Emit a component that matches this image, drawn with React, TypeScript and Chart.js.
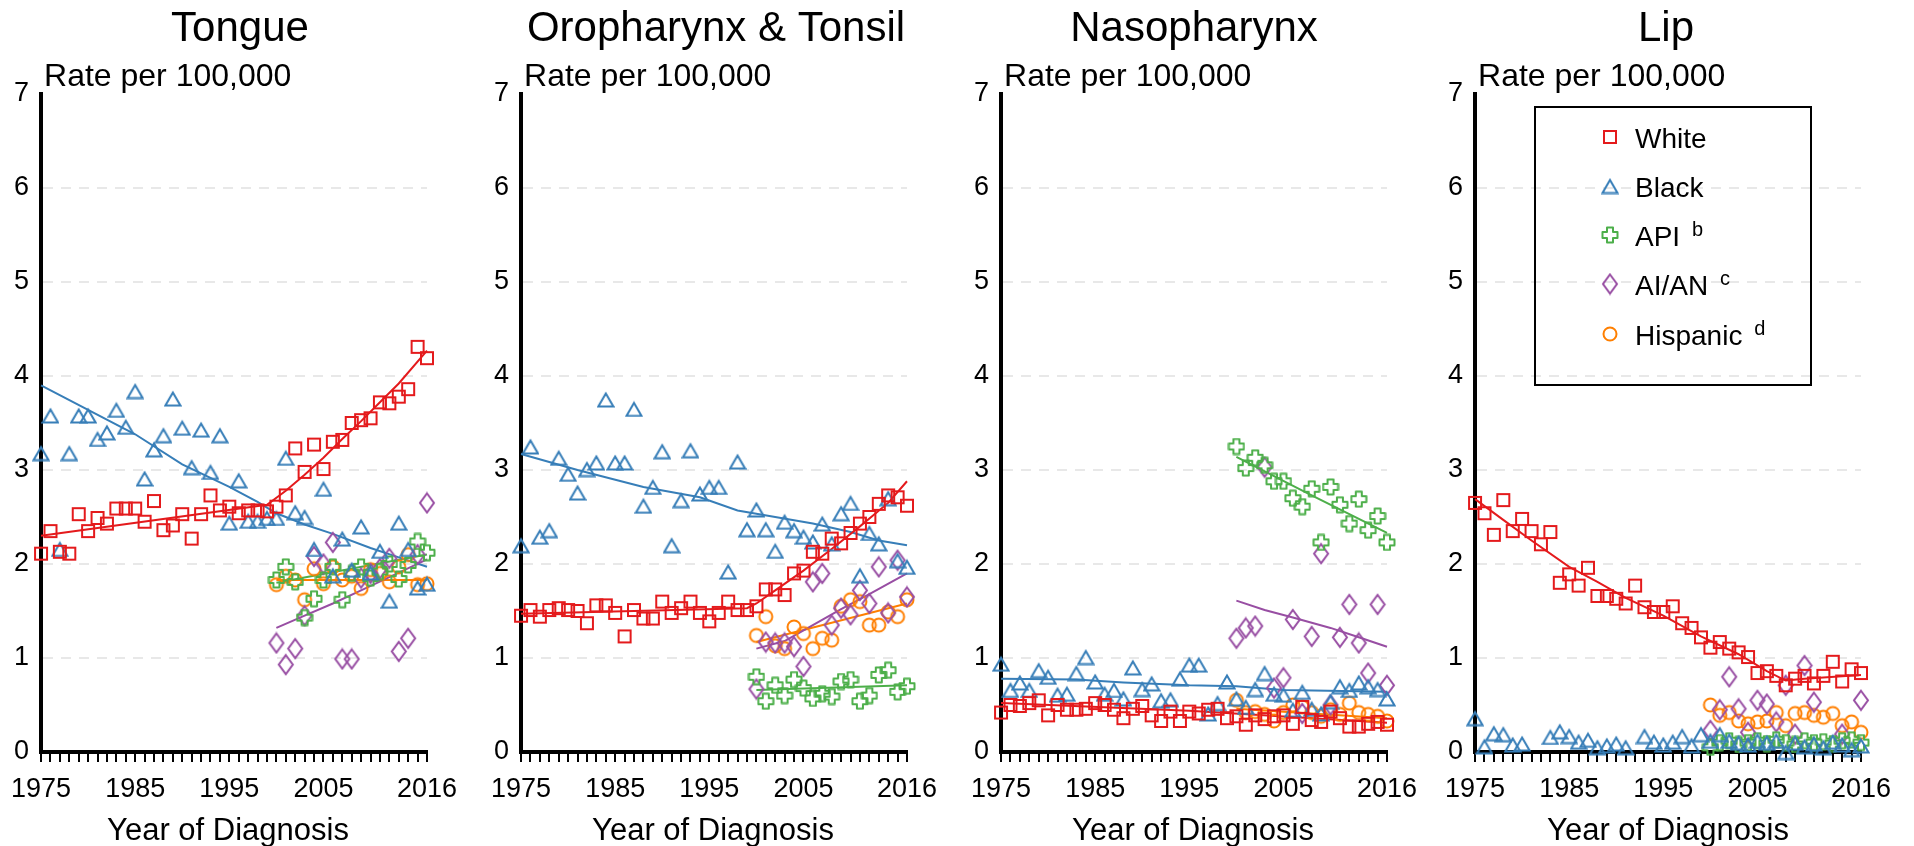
import React, { useEffect, useRef } from 'react';
import { Chart, registerables } from 'chart.js';

Chart.register(...registerables);

const FONT = '"Liberation Sans", Arial, Helvetica, sans-serif';

// ---------------- Data ----------------
const YEARS_ALL = [1975, 1976, 1977, 1978, 1979, 1980, 1981, 1982, 1983, 1984, 1985, 1986, 1987, 1988, 1989, 1990, 1991, 1992, 1993, 1994, 1995, 1996, 1997, 1998, 1999, 2000, 2001, 2002, 2003, 2004, 2005, 2006, 2007, 2008, 2009, 2010, 2011, 2012, 2013, 2014, 2015, 2016];
const YEARS_RECENT = [2000, 2001, 2002, 2003, 2004, 2005, 2006, 2007, 2008, 2009, 2010, 2011, 2012, 2013, 2014, 2015, 2016];
const X_TICK_LABELS = [1975, 1985, 1995, 2005, 2016];
const PANEL_TITLES = ['Tongue', 'Oropharynx & Tonsil', 'Nasopharynx', 'Lip'];
const Y_LABEL = 'Rate per 100,000';
const X_LABEL = 'Year of Diagnosis';
const LEGEND_LABELS = ['White', 'Black', 'API', 'AI/AN', 'Hispanic'];
const LEGEND_SUPS = ['', '', 'b', 'c', 'd'];

// Tongue
const TONGUE_WHITE = [2.11, 2.35, 2.13, 2.11, 2.53, 2.35, 2.49, 2.43, 2.59, 2.59, 2.59, 2.45, 2.67, 2.36, 2.41, 2.53, 2.27, 2.53, 2.73, 2.57, 2.61, 2.54, 2.57, 2.57, 2.56, 2.61, 2.73, 3.23, 2.98, 3.27, 3.01, 3.30, 3.32, 3.50, 3.53, 3.55, 3.72, 3.71, 3.78, 3.86, 4.31, 4.19];
const TONGUE_BLACK = [3.18, 3.58, 2.16, 3.18, 3.58, 3.58, 3.33, 3.40, 3.64, 3.46, 3.84, 2.91, 3.22, 3.37, 3.76, 3.45, 3.03, 3.43, 2.98, 3.37, 2.44, 2.89, 2.46, 2.46, 2.49, 2.49, 3.13, 2.55, 2.50, 2.16, 2.80, 1.88, 2.27, 1.94, 2.40, 1.91, 2.14, 1.61, 2.44, 2.16, 1.75, 1.79];
const TONGUE_API = [1.83, 1.97, 1.81, 1.43, 1.63, 1.83, 1.97, 1.62, 1.90, 1.97, 1.85, 1.92, 2.00, 1.84, 1.99, 2.24, 2.12];
const TONGUE_AIAN = [1.16, 0.93, 1.10, 1.45, 2.08, 2.00, 2.23, 0.99, 0.99, 1.85, 1.90, 1.95, 2.06, 1.07, 1.21, 2.10, 2.65];
const TONGUE_HISP = [1.78, 1.87, 1.83, 1.62, 1.95, 1.79, 1.97, 1.83, 1.87, 1.74, 1.94, 1.90, 1.81, 1.97, 2.10, 1.78, 1.79];
const TONGUE_WHITE_FIT_X = [1975, 1999, 2001, 2003, 2005, 2007, 2009, 2011, 2013, 2016];
const TONGUE_WHITE_FIT_Y = [2.30, 2.63, 2.78, 2.95, 3.13, 3.33, 3.52, 3.72, 3.92, 4.27];
const TONGUE_BLACK_FIT_X = [1975, 1980, 1985, 1990, 1995, 1998, 2000, 2003, 2006, 2010, 2013, 2016];
const TONGUE_BLACK_FIT_Y = [3.90, 3.64, 3.38, 3.06, 2.82, 2.66, 2.54, 2.42, 2.32, 2.17, 2.07, 1.97];
const TONGUE_API_FIT_X = [2000, 2016];
const TONGUE_API_FIT_Y = [1.80, 2.10];
const TONGUE_AIAN_FIT_X = [2000, 2003, 2006, 2009, 2012, 2016];
const TONGUE_AIAN_FIT_Y = [1.32, 1.45, 1.58, 1.72, 1.86, 2.05];
const TONGUE_HISP_FIT_X = [2000, 2016];
const TONGUE_HISP_FIT_Y = [1.83, 1.83];

// Oropharynx & Tonsil
const ORO_WHITE = [1.45, 1.51, 1.44, 1.51, 1.53, 1.51, 1.50, 1.37, 1.56, 1.56, 1.48, 1.23, 1.51, 1.42, 1.42, 1.60, 1.48, 1.53, 1.60, 1.48, 1.39, 1.48, 1.60, 1.51, 1.51, 1.55, 1.73, 1.73, 1.67, 1.90, 1.93, 2.13, 2.11, 2.27, 2.22, 2.33, 2.43, 2.50, 2.64, 2.73, 2.71, 2.62];
const ORO_BLACK = [2.20, 3.25, 2.29, 2.36, 3.13, 2.96, 2.76, 3.01, 3.08, 3.75, 3.08, 3.08, 3.65, 2.62, 2.82, 3.20, 2.20, 2.68, 3.21, 2.75, 2.82, 2.82, 1.92, 3.09, 2.37, 2.58, 2.37, 2.14, 2.45, 2.36, 2.29, 2.24, 2.43, 2.22, 2.54, 2.65, 1.88, 2.33, 2.22, 2.70, 2.04, 1.97];
const ORO_API = [0.80, 0.54, 0.71, 0.60, 0.77, 0.68, 0.57, 0.62, 0.59, 0.75, 0.77, 0.54, 0.60, 0.82, 0.87, 0.64, 0.70];
const ORO_AIAN = [0.67, 1.17, 1.16, 1.16, 1.12, 0.91, 1.81, 1.90, 1.35, 1.53, 1.46, 1.72, 1.58, 1.97, 1.48, 2.04, 1.65];
const ORO_HISP = [1.24, 1.44, 1.13, 1.10, 1.33, 1.26, 1.10, 1.21, 1.19, 1.55, 1.62, 1.60, 1.35, 1.35, 1.49, 1.44, 1.62];
const ORO_WHITE_FIT_X = [1975, 1999, 2000, 2002, 2005, 2008, 2011, 2014, 2016];
const ORO_WHITE_FIT_Y = [1.47, 1.53, 1.58, 1.72, 1.93, 2.16, 2.40, 2.65, 2.88];
const ORO_BLACK_FIT_X = [1975, 1981, 1988, 1994, 1998, 2002, 2006, 2010, 2013, 2016];
const ORO_BLACK_FIT_Y = [3.17, 3.00, 2.82, 2.71, 2.57, 2.50, 2.43, 2.34, 2.25, 2.20];
const ORO_API_FIT_X = [2000, 2016];
const ORO_API_FIT_Y = [0.66, 0.71];
const ORO_AIAN_FIT_X = [2000, 2003, 2006, 2009, 2012, 2016];
const ORO_AIAN_FIT_Y = [1.10, 1.18, 1.35, 1.52, 1.68, 1.90];
const ORO_HISP_FIT_X = [2000, 2016];
const ORO_HISP_FIT_Y = [1.17, 1.58];

// Nasopharynx
const NASO_WHITE = [0.42, 0.50, 0.49, 0.52, 0.55, 0.39, 0.50, 0.45, 0.45, 0.46, 0.52, 0.50, 0.45, 0.36, 0.46, 0.49, 0.39, 0.33, 0.43, 0.33, 0.43, 0.41, 0.45, 0.46, 0.36, 0.38, 0.29, 0.39, 0.35, 0.38, 0.39, 0.30, 0.48, 0.34, 0.32, 0.43, 0.36, 0.27, 0.27, 0.30, 0.32, 0.29];
const NASO_BLACK = [0.94, 0.66, 0.74, 0.66, 0.87, 0.80, 0.61, 0.62, 0.84, 1.01, 0.75, 0.62, 0.66, 0.57, 0.90, 0.67, 0.73, 0.55, 0.56, 0.78, 0.93, 0.93, 0.41, 0.52, 0.75, 0.57, 0.48, 0.67, 0.84, 0.62, 0.61, 0.45, 0.64, 0.46, 0.41, 0.54, 0.70, 0.66, 0.74, 0.70, 0.67, 0.57];
const NASO_API = [3.25, 3.02, 3.13, 3.05, 2.88, 2.88, 2.70, 2.61, 2.80, 2.23, 2.82, 2.63, 2.43, 2.69, 2.36, 2.51, 2.23];
const NASO_AIAN = [1.21, 1.32, 1.34, 3.03, 0.68, 0.79, 1.41, 0.41, 1.23, 2.11, 0.50, 1.22, 1.57, 1.16, 0.84, 1.57, 0.71];
const NASO_HISP = [0.55, 0.42, 0.43, 0.40, 0.33, 0.42, 0.50, 0.48, 0.42, 0.38, 0.45, 0.40, 0.52, 0.42, 0.40, 0.38, 0.33];
const NASO_WHITE_FIT_X = [1975, 1995, 2016];
const NASO_WHITE_FIT_Y = [0.52, 0.44, 0.31];
const NASO_BLACK_FIT_X = [1975, 1983, 1988, 1995, 2000, 2005, 2016];
const NASO_BLACK_FIT_Y = [0.78, 0.77, 0.74, 0.71, 0.70, 0.66, 0.64];
const NASO_API_FIT_X = [2000, 2008, 2016];
const NASO_API_FIT_Y = [3.14, 2.73, 2.33];
const NASO_AIAN_FIT_X = [2000, 2003, 2006, 2010, 2013, 2016];
const NASO_AIAN_FIT_Y = [1.61, 1.51, 1.43, 1.32, 1.22, 1.12];
const NASO_HISP_FIT_X = [2000, 2016];
const NASO_HISP_FIT_Y = [0.46, 0.36];

// Lip
const LIP_WHITE = [2.65, 2.54, 2.31, 2.68, 2.35, 2.48, 2.35, 2.21, 2.34, 1.80, 1.89, 1.77, 1.96, 1.66, 1.66, 1.63, 1.58, 1.77, 1.54, 1.49, 1.49, 1.55, 1.37, 1.32, 1.22, 1.11, 1.17, 1.10, 1.06, 1.01, 0.84, 0.86, 0.81, 0.71, 0.78, 0.81, 0.73, 0.81, 0.96, 0.75, 0.88, 0.84];
const LIP_BLACK = [0.36, 0.06, 0.20, 0.19, 0.08, 0.09, null, null, 0.16, 0.22, 0.17, 0.11, 0.13, 0.05, 0.07, 0.09, 0.05, null, 0.17, 0.11, 0.08, 0.11, 0.17, 0.07, 0.19, 0.12, 0.19, 0.12, 0.10, 0.08, 0.12, 0.10, 0.12, 0.00, 0.10, 0.06, 0.09, 0.05, 0.11, 0.08, 0.03, 0.07];
const LIP_API = [0.05, 0.10, 0.12, 0.08, 0.10, 0.12, 0.09, 0.13, 0.10, 0.08, 0.12, 0.10, 0.11, 0.09, 0.12, 0.13, 0.10];
const LIP_AIAN = [0.23, 0.45, 0.80, 0.46, 0.21, 0.55, 0.51, 0.32, 0.71, 0.19, 0.92, 0.53, null, null, 0.19, null, 0.55];
const LIP_HISP = [0.50, 0.39, 0.42, 0.33, 0.30, 0.32, 0.33, 0.42, 0.28, 0.41, 0.42, 0.39, 0.37, 0.41, 0.28, 0.32, 0.21];
const LIP_WHITE_FIT_X = [1975, 1978, 1981, 1985, 1988, 1991, 1995, 1999, 2003, 2006, 2008, 2010, 2016];
const LIP_WHITE_FIT_Y = [2.69, 2.47, 2.25, 1.97, 1.81, 1.64, 1.45, 1.23, 1.04, 0.86, 0.76, 0.78, 0.82];

// ---------------- Styles ----------------
const COLORS = ['#e41a1c', '#377eb8', '#4daf4a', '#984ea3', '#ff7f00'];
const SHAPES = ['square', 'triangle', 'cross', 'diamond', 'circle'];

const CHART_LEFTS = [40, 520, 1000, 1474];
const CANVAS_LEFTS = [0, 480, 960, 1434];
const TITLE_X = [240, 716, 1194, 1666];
const XTITLE_X = [228, 713, 1193, 1668];
const CANVAS_W = 480;
const CANVAS_H = 846;
const PLOT_W = 387;

type Pair = [number[], (number | null)[]];

const PANEL_SERIES: Pair[][] = [
  [[YEARS_ALL, TONGUE_WHITE], [YEARS_ALL, TONGUE_BLACK], [YEARS_RECENT, TONGUE_API], [YEARS_RECENT, TONGUE_AIAN], [YEARS_RECENT, TONGUE_HISP]],
  [[YEARS_ALL, ORO_WHITE], [YEARS_ALL, ORO_BLACK], [YEARS_RECENT, ORO_API], [YEARS_RECENT, ORO_AIAN], [YEARS_RECENT, ORO_HISP]],
  [[YEARS_ALL, NASO_WHITE], [YEARS_ALL, NASO_BLACK], [YEARS_RECENT, NASO_API], [YEARS_RECENT, NASO_AIAN], [YEARS_RECENT, NASO_HISP]],
  [[YEARS_ALL, LIP_WHITE], [YEARS_ALL, LIP_BLACK], [YEARS_RECENT, LIP_API], [YEARS_RECENT, LIP_AIAN], [YEARS_RECENT, LIP_HISP]],
];

const PANEL_FITS: ([number[], number[]] | null)[][] = [
  [[TONGUE_WHITE_FIT_X, TONGUE_WHITE_FIT_Y], [TONGUE_BLACK_FIT_X, TONGUE_BLACK_FIT_Y], [TONGUE_API_FIT_X, TONGUE_API_FIT_Y], [TONGUE_AIAN_FIT_X, TONGUE_AIAN_FIT_Y], [TONGUE_HISP_FIT_X, TONGUE_HISP_FIT_Y]],
  [[ORO_WHITE_FIT_X, ORO_WHITE_FIT_Y], [ORO_BLACK_FIT_X, ORO_BLACK_FIT_Y], [ORO_API_FIT_X, ORO_API_FIT_Y], [ORO_AIAN_FIT_X, ORO_AIAN_FIT_Y], [ORO_HISP_FIT_X, ORO_HISP_FIT_Y]],
  [[NASO_WHITE_FIT_X, NASO_WHITE_FIT_Y], [NASO_BLACK_FIT_X, NASO_BLACK_FIT_Y], [NASO_API_FIT_X, NASO_API_FIT_Y], [NASO_AIAN_FIT_X, NASO_AIAN_FIT_Y], [NASO_HISP_FIT_X, NASO_HISP_FIT_Y]],
  [[LIP_WHITE_FIT_X, LIP_WHITE_FIT_Y], null, null, null, null],
];

function makeMarker(kind: string, color: string): HTMLCanvasElement {
  const c = document.createElement('canvas');
  const w = 18;
  const h = kind === 'diamond' ? 23 : kind === 'triangle' ? 17 : 18;
  c.width = w;
  c.height = h;
  const ctx = c.getContext('2d') as CanvasRenderingContext2D;
  ctx.strokeStyle = color;
  ctx.lineWidth = 2;
  ctx.lineJoin = kind === 'cross' ? 'round' : 'miter';
  ctx.beginPath();
  if (kind === 'square') {
    ctx.rect(3, 3, 12, 12);
  } else if (kind === 'triangle') {
    ctx.moveTo(9, 2.5);
    ctx.lineTo(16.5, 15.5);
    ctx.lineTo(1.5, 15.5);
    ctx.closePath();
  } else if (kind === 'cross') {
    const pts = [[6, 1.5], [12, 1.5], [12, 6], [16.5, 6], [16.5, 12], [12, 12], [12, 16.5], [6, 16.5], [6, 12], [1.5, 12], [1.5, 6], [6, 6]];
    ctx.moveTo(pts[0][0], pts[0][1]);
    for (let i = 1; i < pts.length; i++) ctx.lineTo(pts[i][0], pts[i][1]);
    ctx.closePath();
  } else if (kind === 'diamond') {
    ctx.moveTo(9, 2);
    ctx.lineTo(16, 11.5);
    ctx.lineTo(9, 21);
    ctx.lineTo(2, 11.5);
    ctx.closePath();
  } else {
    ctx.arc(9, 9, 6.5, 0, Math.PI * 2);
  }
  ctx.stroke();
  return c;
}

function drawPanelText(chart: any, idx: number, markers: HTMLCanvasElement[]) {
  const ctx = chart.ctx as CanvasRenderingContext2D;
  const area = chart.chartArea;
  const off = CANVAS_LEFTS[idx];
  ctx.save();
  ctx.fillStyle = '#000';
  ctx.textBaseline = 'alphabetic';
  ctx.textAlign = 'center';
  ctx.font = `42px ${FONT}`;
  ctx.fillText(PANEL_TITLES[idx], TITLE_X[idx] - off, 41);
  ctx.textAlign = 'left';
  ctx.font = `32px ${FONT}`;
  ctx.fillText(Y_LABEL, area.left + 3, 86);
  ctx.textAlign = 'center';
  ctx.font = `31px ${FONT}`;
  ctx.fillText(X_LABEL, XTITLE_X[idx] - off, 840);

  if (idx === 3) {
    const bx = 1535 - off;
    const by = 107;
    ctx.strokeStyle = '#000';
    ctx.lineWidth = 2;
    ctx.strokeRect(bx, by, 276, 278);
    const baselines = [148, 197, 246, 295, 345];
    const mx = 1610 - off;
    const tx = 1635 - off;
    for (let i = 0; i < LEGEND_LABELS.length; i++) {
      const m = markers[i];
      ctx.drawImage(m, mx - m.width / 2, baselines[i] - 11 - m.height / 2);
      ctx.textAlign = 'left';
      ctx.font = `28px ${FONT}`;
      ctx.fillText(LEGEND_LABELS[i], tx, baselines[i]);
      if (LEGEND_SUPS[i]) {
        const w = ctx.measureText(LEGEND_LABELS[i] + ' ').width;
        ctx.font = `20px ${FONT}`;
        ctx.fillText(LEGEND_SUPS[i], tx + w + 4, baselines[i] - 10);
      }
    }
  }
  ctx.restore();
}

function buildConfig(idx: number, markers: HTMLCanvasElement[]): any {
  const series = PANEL_SERIES[idx];
  const fits = PANEL_FITS[idx];
  const datasets: any[] = [];
  series.forEach(([xs, ys], i) => {
    const data: { x: number; y: number }[] = [];
    xs.forEach((x, j) => {
      const y = ys[j];
      if (y !== null && y !== undefined) data.push({ x, y });
    });
    datasets.push({
      label: LEGEND_LABELS[i],
      data,
      showLine: false,
      pointStyle: markers[i],
      pointRadius: 7,
      pointHoverRadius: 7,
      borderColor: COLORS[i],
      backgroundColor: COLORS[i],
      clip: false,
      order: i,
    });
  });
  fits.forEach((f, i) => {
    if (!f) return;
    const [xs, ys] = f;
    datasets.push({
      label: LEGEND_LABELS[i] + ' fit',
      data: xs.map((x, j) => ({ x, y: ys[j] })),
      borderColor: COLORS[i],
      borderWidth: 2,
      pointRadius: 0,
      tension: 0,
      fill: false,
      clip: false,
      order: 10 + i,
    });
  });

  const yWidth = CHART_LEFTS[idx] - CANVAS_LEFTS[idx];
  const rightPad = CANVAS_W - yWidth - PLOT_W;

  return {
    type: 'line',
    data: { datasets },
    options: {
      responsive: false,
      animation: false,
      devicePixelRatio: 1,
      events: [],
      layout: { padding: { top: 94, bottom: 34, left: 0, right: rightPad } },
      plugins: { legend: { display: false }, tooltip: { enabled: false }, title: { display: false } },
      scales: {
        x: {
          type: 'linear',
          min: 1975,
          max: 2016,
          afterBuildTicks: (scale: any) => {
            scale.ticks = YEARS_ALL.map((v) => ({ value: v }));
          },
          afterFit: (scale: any) => {
            scale.height = 60;
          },
          ticks: {
            autoSkip: false,
            maxRotation: 0,
            minRotation: 0,
            padding: 11,
            color: '#000',
            font: { size: 27, family: FONT },
            callback: (v: number) => (X_TICK_LABELS.includes(v) ? String(v) : ''),
          },
          grid: {
            drawOnChartArea: false,
            drawTicks: true,
            tickLength: 10,
            color: '#000',
            lineWidth: 2,
          },
          border: { display: true, color: '#000', width: 4 },
        },
        y: {
          type: 'linear',
          min: 0,
          max: 7,
          afterFit: (scale: any) => {
            scale.width = yWidth;
          },
          ticks: {
            stepSize: 1,
            padding: 12,
            color: '#000',
            font: { size: 27, family: FONT },
          },
          grid: {
            drawTicks: false,
            lineWidth: 2,
            color: (c: any) => (c.tick && (c.tick.value === 0 || c.tick.value === 7) ? 'rgba(0,0,0,0)' : '#e8e8e8'),
          },
          border: { display: true, color: '#000', width: 4, dash: [10, 8] },
        },
      },
    },
    plugins: [
      {
        id: 'panelText' + idx,
        afterDraw: (chart: any) => drawPanelText(chart, idx, markers),
      },
    ],
  };
}

function PanelChart({ idx }: { idx: number }) {
  const ref = useRef<HTMLCanvasElement | null>(null);
  useEffect(() => {
    if (!ref.current) return;
    const markers = SHAPES.map((s, i) => makeMarker(s, COLORS[i]));
    const chart = new Chart(ref.current, buildConfig(idx, markers));
    return () => chart.destroy();
  }, [idx]);
  return (
    <canvas
      ref={ref}
      width={CANVAS_W}
      height={CANVAS_H}
      style={{ position: 'absolute', left: CANVAS_LEFTS[idx], top: 0, width: CANVAS_W, height: CANVAS_H }}
    />
  );
}

export default function App() {
  Chart.defaults.font.family = FONT;
  Chart.defaults.color = '#000';
  return (
    <div style={{ position: 'absolute', left: 0, top: 0, width: 1914, height: 846, background: '#fff', overflow: 'hidden' }}>
      {PANEL_TITLES.map((_, i) => (
        <PanelChart key={i} idx={i} />
      ))}
    </div>
  );
}
